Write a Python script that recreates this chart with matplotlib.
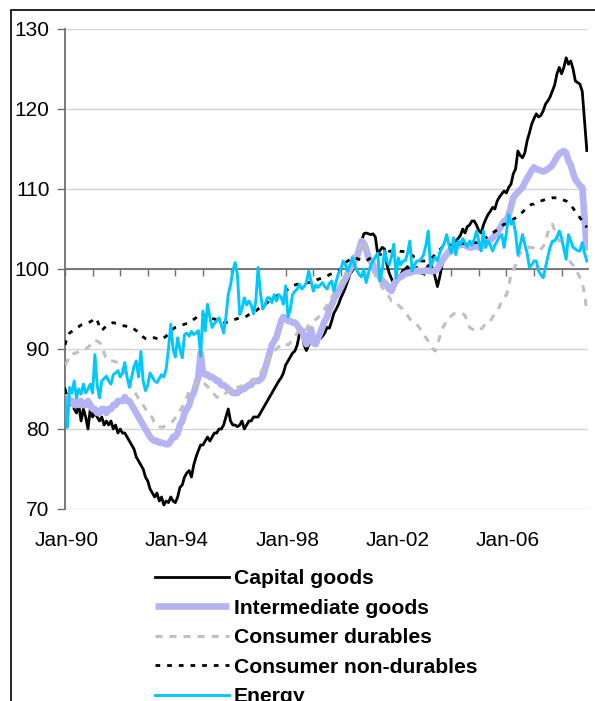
import numpy as np
import matplotlib
matplotlib.use('Agg')
import matplotlib.pyplot as plt
from matplotlib.transforms import blended_transform_factory
from matplotlib.patches import Rectangle

plt.rcParams['font.family'] = ['Liberation Sans', 'DejaVu Sans']

# monthly index values, Jan-90 .. Dec-08 (one row per year)
capital = [
    85, 84, 83, 83.5, 82.5, 82, 83, 81, 82.5, 81.5, 80, 82.5,
    81.5, 82, 81.5, 81, 81.5, 80.5, 81, 80.5, 81, 80, 80.5, 79.5,
    80, 79.5, 79.5, 79, 78.5, 78, 77.5, 76.5, 76, 75.5, 75, 74,
    73.5, 72.5, 72, 71.5, 72, 71, 71.5, 70.5, 71, 70.8, 71.5, 71,
    70.8, 71.5, 72.7, 73, 74, 74.5, 74.8, 74, 75.5, 76.5, 77.3, 78,
    78, 78.5, 79, 78.5, 79, 79.5, 79.5, 80, 80, 80.5, 81.5, 82.5,
    81, 80.5, 80.5, 80.3, 80.5, 81, 80, 80.5, 81, 81, 81.5, 81.5,
    81.5, 82, 82.5, 83, 83.5, 84, 84.5, 85, 85.5, 86, 86.4, 87,
    88, 88.5, 89, 89.5, 89.75, 90.5, 91.9, 92.3, 90.5, 89.8, 90.5, 91,
    91, 91.2, 91.4, 91.3, 91.6, 92, 92.7, 92.6, 93.5, 94.5, 95, 95.6,
    96.4, 97, 97.7, 98.5, 99.4, 99.8, 100.5, 101.4, 102.5, 103.5, 104.4, 104.5,
    104.4, 104.3, 104.4, 104, 101.9, 102.3, 102.7, 102.5, 100.6, 99.5, 98.8, 98.2,
    98.3, 99, 99.3, 99.8, 100, 100.3, 99.8, 100.2, 99.8, 100.2, 99.6, 99.5,
    99.4, 100, 100.4, 100.6, 100, 99, 97.8, 99, 100.5, 101.3, 101.9, 102.3,
    102.7, 103, 103.5, 103.8, 104.2, 105, 104.5, 105.3, 105.5, 106, 106, 105.5,
    104.8, 104.5, 105.5, 106.2, 106.8, 107.2, 107.7, 107.5, 108.5, 109, 109.4, 109.75,
    109.5, 110.2, 110.6, 111.9, 112.5, 114.75, 114.2, 113.9, 114.5, 116, 117, 118.1,
    118.8, 119.4, 119, 119.2, 119.75, 120.6, 121, 121.5, 122.25, 123, 124.4, 125.2,
    124.4, 125.2, 126.4, 125.6, 126, 125, 123.5, 123.3, 123.1, 122.2, 118.5, 114.8,
]

intermediate = [
    83.5, 84, 83.5, 83.5, 83, 83.5, 83, 83.5, 83, 83, 83.5, 83,
    82.5, 82.5, 82, 82, 82.5, 82.5, 82, 82.5, 82.5, 83, 83, 83.5,
    83.5, 83.5, 84, 83.5, 83.5, 83, 82.5, 82, 81.5, 81, 80.5, 80,
    79.5, 79, 78.7, 78.5, 78.5, 78.3, 78.3, 78.2, 78.1, 78.1, 78.5, 79,
    79, 79.5, 80.5, 81, 82, 82.5, 83, 84, 84.5, 85.5, 86.5, 89.5,
    87, 86.8, 86.8, 86.5, 86.5, 86.3, 86, 86, 85.5, 85.5, 85.3, 85,
    84.8, 84.5, 84.5, 84.5, 84.8, 85, 85, 85.3, 85.5, 85.5, 86, 86,
    86, 86.2, 86.5, 87.5, 88.5, 89.5, 90.5, 91, 91.5, 92.5, 93.5, 94,
    93.8, 93.5, 93.5, 93.3, 93.3, 93, 92.5, 92.3, 91.5, 90.6, 91.5, 92.5,
    90.8, 90.6, 91.3, 92, 92.8, 93.5, 94, 95, 95.5, 96.2, 96.8, 97.3,
    97.7, 98.3, 98.8, 99.4, 100, 100.5, 101, 101.5, 102.5, 103.5, 103.2, 102.5,
    101.4, 101, 100.5, 99.75, 99.5, 99, 98.5, 98.3, 98, 97.5, 97.25, 98,
    98.5, 98.9, 99, 99.2, 99.4, 99.5, 99.5, 99.75, 99.7, 99.8, 99.7, 99.75,
    99.75, 99.8, 99.8, 99.7, 99.75, 99.8, 100, 100.5, 101, 101.4, 101.8, 102.2,
    102.25, 102.5, 102.7, 103, 103, 103.2, 103, 102.8, 102.7, 102.7, 102.8, 103,
    102.7, 102.8, 103, 103.2, 103.4, 103.6, 103.9, 104.2, 104.6, 105, 105.5, 106,
    106, 106.8, 107.8, 108.9, 109.3, 109.6, 109.9, 110.2, 110.8, 111.3, 111.8, 112.3,
    112.7, 112.5, 112.4, 112.3, 112.2, 112.3, 112.5, 112.7, 113, 113.5, 114, 114.4,
    114.6, 114.75, 114.5, 113.5, 113, 112, 111.2, 110.8, 110.4, 110.2, 106.4, 102.3,
]

durables = [
    88, 88.5, 89, 89, 89.5, 89.5, 89.7, 89.8, 90, 90, 90.2, 90.5,
    91, 91, 91, 90.8, 90.5, 89.5, 88.7, 88.6, 88.5, 88.5, 88.4, 88.3,
    88.1, 87.5, 87, 86.4, 85.8, 85.2, 84.75, 84.3, 83.8, 83.5, 83, 82.5,
    82.25, 81.8, 81.4, 80.6, 80.5, 80.3, 80.2, 80.3, 80.5, 80.6, 80.8, 81,
    81.4, 81.8, 82.3, 82.7, 83.5, 84, 84.75, 85, 85.3, 85.6, 86, 86,
    85.8, 85.6, 85.3, 85, 84.6, 84.3, 84, 83.9, 84, 84.2, 84.5, 84.7,
    84.8, 85, 85, 85.2, 85.3, 85.4, 85.6, 85.7, 85.8, 86, 86, 86.2,
    86.4, 86.9, 87.5, 88.1, 88.5, 89, 89.3, 89.7, 90, 90.3, 90.6, 90.7,
    90.6, 90.5, 90.8, 91.2, 91.5, 92, 92.25, 92.5, 92.2, 92.5, 93, 93.3,
    93.5, 93.7, 93.9, 94.2, 94.5, 95, 95.5, 96, 96.5, 97, 97.3, 97.7,
    98.2, 98.8, 99.4, 100, 100.8, 101.5, 101.9, 102.3, 102.7, 103, 103.5, 102.5,
    101.5, 100.5, 99.75, 99.2, 98.9, 98.3, 97.7, 97.3, 97, 96.5, 96, 96,
    95.8, 95.5, 95.2, 95, 94.6, 94.2, 93.75, 93.5, 93.3, 93.1, 92.7, 92.3,
    91.9, 91.4, 91, 90.5, 90, 89.75, 90.5, 91.5, 92.5, 93, 93.5, 94,
    94.1, 94.4, 94.4, 94.4, 94.5, 94.4, 94.2, 93.5, 92.7, 92.5, 92.4, 92.3,
    92.25, 92.5, 92.8, 93.2, 93.5, 93.5, 94, 94.4, 94.75, 95.3, 96, 96.4,
    96.8, 97.7, 99.4, 99.75, 100.5, 101.4, 102, 102.3, 102.5, 102.6, 102.7, 102.7,
    102.6, 102.4, 102.25, 102.5, 102.8, 103.5, 104.5, 105.2, 105.6, 104.8, 104, 103.5,
    103.5, 102.8, 102, 101.3, 100.8, 100.5, 100, 99.5, 98.9, 98.2, 97, 94.5,
]

non_durables = [
    90.5, 91.5, 92, 92.2, 92.4, 92.6, 92.8, 93, 93.1, 93.2, 93.3, 93.4,
    93.6, 93.9, 93.6, 92.8, 92.3, 92.6, 92.9, 93, 93.2, 93.3, 93.2, 93.1,
    93, 92.9, 92.9, 92.8, 92.7, 92.7, 92.5, 92.3, 92, 91.8, 91.5, 91.3,
    91.2, 91.3, 91.4, 91.4, 91.3, 91.2, 91.2, 91.4, 91.6, 91.9, 92.2, 92.5,
    92.7, 92.8, 92.9, 93, 93.1, 93.2, 93.3, 93.5, 93.7, 93.9, 94.2, 94.5,
    94.3, 94.1, 94, 93.9, 93.8, 93.75, 93.6, 93.5, 93.4, 93.3, 93.3, 93.4,
    93.5, 93.6, 93.7, 93.8, 93.9, 93.9, 94, 94.1, 94.3, 94.5, 94.6, 94.75,
    95, 95.2, 95.4, 95.6, 95.8, 96, 96.2, 96.4, 96.6, 96.8, 96.9, 97,
    97.2, 97.5, 97.7, 97.9, 98, 98.1, 98.1, 98.1, 98.2, 98.3, 98.3, 98.4,
    98.5, 98.6, 98.7, 98.8, 98.9, 99, 99.1, 99.3, 99.4, 99.5, 99.6, 99.75,
    100, 100.4, 100.8, 101, 101.2, 101.4, 101.4, 101.3, 101.2, 101.1, 101, 101,
    101.2, 101.4, 101.5, 101.6, 101.7, 101.8, 101.9, 102, 102.1, 102.2, 102.25, 102.3,
    102.3, 102.3, 102.2, 102.2, 102.1, 102, 101.9, 101.7, 101.5, 101.4, 101.2, 101,
    101, 101, 101.1, 101.3, 101.5, 101.8, 102.1, 102.4, 102.7, 102.8, 102.9, 103,
    103, 103.1, 103.1, 103.1, 103.2, 103.2, 103.2, 103.3, 103.3, 103.3, 103.3, 103.3,
    103.3, 103.5, 103.7, 103.9, 104.1, 104.3, 104.5, 104.7, 104.9, 105.2, 105.4, 105.6,
    105.6, 105.8, 106, 106.2, 106.4, 106.6, 106.8, 107.1, 107.4, 107.7, 107.9, 108.1,
    108.1, 108.3, 108.4, 108.5, 108.6, 108.7, 108.8, 108.8, 108.9, 108.9, 108.9, 108.8,
    108.7, 108.6, 108.5, 108.3, 108, 107.6, 107.2, 106.8, 106.4, 106, 105.6, 105.2,
]

energy = [
    84, 80.2, 85.2, 84.5, 86, 83.9, 85, 84.4, 85.6, 84.5, 85, 85.6,
    84.5, 89.3, 85.5, 83.9, 86, 86.3, 86.6, 86, 85.6, 86.8, 87, 87.3,
    86.5, 87, 88.3, 86.5, 85.2, 86.5, 87.8, 88.5, 86.5, 89.7, 86, 84.8,
    85.5, 87, 86.5, 86, 85.8, 86.3, 86.8, 86.5, 87.5, 90, 93.1, 90,
    89, 91.4, 90, 88.9, 91.8, 92, 91.6, 92.2, 91.8, 92, 92.3, 89.1,
    94.75, 92.25, 95.6, 94, 92.7, 93.2, 93.5, 93.9, 93, 92, 94, 96.8,
    98, 99.75, 100.8, 99.3, 94.3, 95, 96.4, 95.5, 96, 95.5, 94.4, 96,
    100.2, 97, 95, 95.5, 96.4, 96.4, 95.8, 96.8, 96, 96.8, 96.5, 95.6,
    97.9, 94, 95, 96.8, 97.2, 97.5, 98.1, 97.5, 97.8, 98.3, 99.75, 98.5,
    97.25, 98, 97.7, 98, 98.3, 97.8, 97.5, 98.2, 98.5, 97.25, 98.5, 99.5,
    100, 101, 100.5, 99.75, 100.5, 101.4, 100.5, 99.8, 99.3, 99, 100, 98.3,
    99.5, 100.5, 101, 101.5, 102, 98.5, 100, 102.25, 101, 100.5, 101.5, 103.1,
    98.9, 101.4, 100.5, 101, 101, 102, 103.5, 99.75, 100.5, 101, 101, 101.3,
    101.8, 103, 104.75, 100.2, 101, 101.5, 101, 102, 102.7, 103.2, 104.3, 103,
    102, 103.9, 101.8, 103.5, 103, 103.8, 103.3, 102.8, 103.5, 103, 103.7, 104.75,
    103.5, 102.25, 104.75, 102.7, 103.5, 103, 102.25, 103, 103.5, 104, 104.3, 102.7,
    104.5, 106.8, 105.6, 106, 104.5, 101.8, 103, 104.3, 103.1, 102, 100.2, 100.5,
    101, 101, 99.75, 99.3, 98.9, 100.2, 101.5, 102.7, 103.5, 103.5, 104, 104.75,
    103.9, 102.5, 101.2, 104.3, 103.5, 102.7, 102.5, 102.3, 102.25, 103.3, 102, 101,
]

x_labels = ['Jan-90', 'Jan-94', 'Jan-98', 'Jan-02', 'Jan-06']

fig = plt.figure(figsize=(5.95, 7.01), dpi=100)
ax = fig.add_axes([65 / 595, 1 - 509 / 701, 523 / 595, 480 / 701])

axis_grey = '#6e6e6e'

ax.plot(np.arange(len(capital)), capital, color='black', lw=2.0,
        label='Capital goods', zorder=3)
ax.plot(np.arange(len(intermediate)), intermediate, color='#b4b4f4', lw=4.8,
        label='Intermediate goods', zorder=3, solid_capstyle='butt')
ax.plot(np.arange(len(durables)), durables, color='#c0c0c0', lw=2.2,
        ls=(0, (2.3, 2.3)), label='Consumer durables', zorder=3)
ax.plot(np.arange(len(non_durables)), non_durables, color='black', lw=2.0,
        ls=(0, (1.7, 2.5)), label='Consumer non-durables', zorder=3)
ax.plot(np.arange(len(energy)), energy, color='#00c8ff', lw=2.1,
        label='Energy', zorder=3)

ax.set_xlim(0, 227.5)
ax.set_ylim(70, 130)
ax.set_yticks(range(70, 131, 10))
ax.yaxis.grid(True, color='#d4d4d4', lw=1)
ax.set_axisbelow(True)

for s in ['top', 'right']:
    ax.spines[s].set_visible(False)
ax.spines['bottom'].set_position(('data', 100))
ax.spines['bottom'].set_color(axis_grey)
ax.spines['bottom'].set_linewidth(1.3)
ax.spines['left'].set_color(axis_grey)
ax.spines['left'].set_linewidth(1.3)

ax.set_xticks(np.arange(0, 228, 12))
ax.tick_params(axis='x', direction='out', length=5, width=1, color=axis_grey,
               labelbottom=False)
ax.tick_params(axis='y', direction='out', length=6, width=1, color=axis_grey,
               labelsize=15, pad=5)

# date labels sit below the plot (the x axis line crosses at 100)
trans = blended_transform_factory(ax.transData, ax.transAxes)
for i, lab in enumerate(x_labels):
    ax.text(i * 48 + 0.7, -0.065, lab, transform=trans, ha='center',
            va='center', fontsize=15)

fig.legend(loc='upper left', bbox_to_anchor=(155 / 595, 1 - 569 / 701),
           frameon=False, prop=dict(weight='bold', size=15.2),
           handlelength=3.5, handletextpad=0.23, labelspacing=0.5,
           borderpad=0, borderaxespad=0)

# chart frame (left and top edges visible)
fig.add_artist(Rectangle((11 / 595, -0.05), 2, 1 - 10 / 701 + 0.05,
                         transform=fig.transFigure, fill=False,
                         ec='black', lw=1.2))

fig.savefig('out.png', dpi=100)
